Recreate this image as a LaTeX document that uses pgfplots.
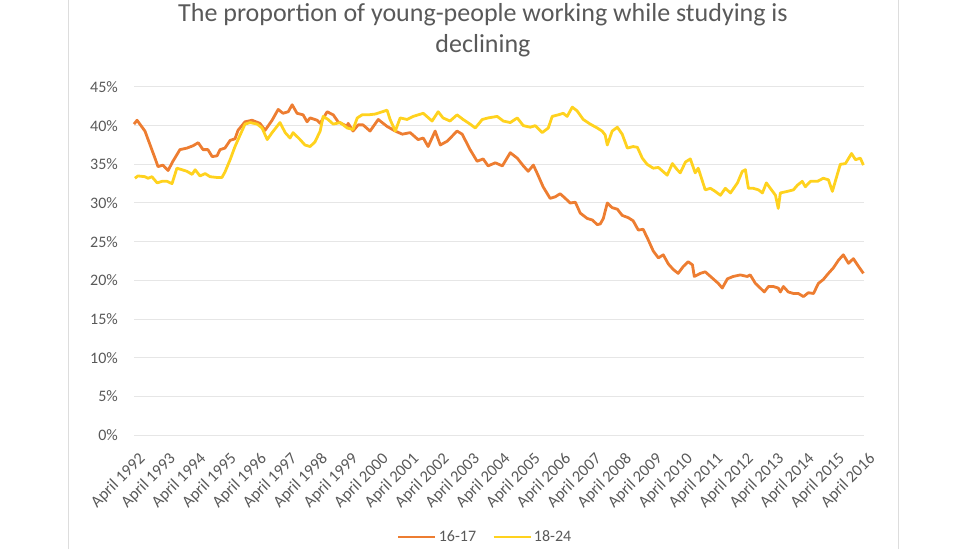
\documentclass[border=0pt]{standalone}
\usepackage{pgfplots}
\pgfplotsset{compat=1.18}
\usepackage{fontspec}
\setmainfont{Carlito}
\definecolor{txtgray}{HTML}{595959}
\definecolor{gridgray}{HTML}{E6E6E6}
\definecolor{bordergray}{HTML}{DDDDDD}
\definecolor{ser1}{HTML}{ED7D31}
\definecolor{ser2}{RGB}{255,210,30}
\begin{document}
\begin{tikzpicture}[x=1pt,y=1pt]
\path[use as bounding box] (0,0) rectangle (976,549);
\draw[bordergray, line width=1pt] (68,0) -- (68,549);
\draw[bordergray, line width=1pt] (898,0) -- (898,549);
\node[txtgray, font=\fontsize{26}{30}\selectfont, anchor=base] at (483,527) {The proportion of young-people working while studying is};
\node[txtgray, font=\fontsize{26}{30}\selectfont, anchor=base] at (483,496) {declining};
\begin{axis}[
  at={(134pt,114pt)}, anchor=south west,
  scale only axis, width=730pt, height=348pt,
  xmin=0, xmax=24, ymin=0, ymax=45,
  axis line style={draw=none},
  major tick length=0pt,
  ymajorgrids, grid style={gridgray, line width=1pt},
  ytick={0,5,...,45},
  yticklabels={0\%,5\%,10\%,15\%,20\%,25\%,30\%,35\%,40\%,45\%},
  xtick={0,...,24},
  xticklabels={April 1992,April 1993,April 1994,April 1995,April 1996,April 1997,April 1998,April 1999,April 2000,April 2001,April 2002,April 2003,April 2004,April 2005,April 2006,April 2007,April 2008,April 2009,April 2010,April 2011,April 2012,April 2013,April 2014,April 2015,April 2016},
  ticklabel style={txtgray, font=\fontsize{16}{19}\selectfont},
  yticklabel style={inner sep=0pt, xshift=-16pt},
  xticklabel style={rotate=45, anchor=east, inner sep=0pt, xshift=-9.2pt, yshift=-21.5pt, font=\fontsize{16.5}{19}\selectfont},
  legend style={at={(0.481,-0.293)}, anchor=center, draw=none, fill=none,
    font=\fontsize{16}{19}\selectfont, text=txtgray, legend columns=2,
    /tikz/every even column/.append style={column sep=14pt}},
  legend image code/.code={\draw[#1] (0pt,0pt) -- (37pt,0pt);},
  clip=false,
]
\addplot[ser1, line width=2.8pt, line join=round] coordinates {
(0.00,40.2)(0.10,40.7)(0.36,39.3)(0.53,37.5)(0.69,35.8)(0.79,34.7)(0.95,34.9)(1.12,34.2)(1.28,35.4)(1.51,36.9)
(1.74,37.1)(1.94,37.4)(2.11,37.8)(2.27,36.9)(2.43,36.9)(2.57,36.0)(2.73,36.1)(2.83,36.9)(2.99,37.1)(3.16,38.1)
(3.32,38.3)(3.42,39.4)(3.65,40.5)(3.88,40.7)(4.14,40.3)(4.31,39.4)(4.54,40.7)(4.74,42.1)(4.90,41.6)(5.07,41.8)
(5.20,42.7)(5.36,41.6)(5.56,41.4)(5.69,40.5)(5.79,41.0)(6.02,40.7)(6.12,40.3)(6.35,41.8)(6.55,41.4)(6.71,40.5)
(7.01,39.9)(7.04,40.3)(7.20,39.3)(7.37,40.1)(7.53,40.1)(7.76,39.3)(8.03,40.8)(8.32,39.9)(8.59,39.3)(8.82,38.9)
(9.08,39.1)(9.34,38.2)(9.51,38.4)(9.67,37.3)(9.90,39.3)(10.07,37.5)(10.30,38.0)(10.62,39.3)(10.79,38.9)(11.05,36.9)
(11.28,35.4)(11.48,35.7)(11.64,34.8)(11.88,35.2)(12.11,34.8)(12.37,36.5)(12.60,35.8)(12.80,34.8)(12.96,34.1)(13.13,34.9)
(13.26,33.8)(13.45,32.1)(13.68,30.6)(13.85,30.8)(14.01,31.2)(14.18,30.6)(14.34,30.0)(14.51,30.1)(14.67,28.7)(14.90,28.0)
(15.07,27.8)(15.23,27.2)(15.33,27.3)(15.43,28.0)(15.56,30.0)(15.72,29.4)(15.89,29.2)(16.05,28.4)(16.25,28.1)(16.41,27.7)
(16.58,26.5)(16.74,26.6)(16.91,25.2)(17.07,23.8)(17.24,22.9)(17.40,23.3)(17.57,22.1)(17.73,21.4)(17.89,20.9)(18.06,21.8)
(18.22,22.4)(18.36,22.0)(18.42,20.5)(18.62,20.9)(18.78,21.1)(19.01,20.3)(19.21,19.6)(19.34,19.0)(19.51,20.2)(19.70,20.5)
(19.93,20.7)(20.16,20.5)(20.26,20.7)(20.43,19.6)(20.59,19.0)(20.72,18.5)(20.86,19.2)(21.02,19.2)(21.18,19.0)(21.25,18.5)
(21.35,19.2)(21.51,18.5)(21.68,18.3)(21.84,18.3)(22.01,17.9)(22.17,18.4)(22.34,18.3)(22.50,19.6)(22.66,20.1)(22.83,20.9)
(22.99,21.6)(23.16,22.6)(23.32,23.3)(23.49,22.2)(23.65,22.8)(23.82,21.8)(23.98,20.9)
};
\addlegendentry{16-17}
\addplot[ser2, line width=2.8pt, line join=round] coordinates {
(0.03,33.2)(0.13,33.5)(0.36,33.4)(0.46,33.2)(0.59,33.4)(0.76,32.6)(0.92,32.8)(1.09,32.8)(1.25,32.5)(1.41,34.5)
(1.58,34.3)(1.74,34.1)(1.91,33.7)(2.01,34.3)(2.17,33.5)(2.34,33.8)(2.50,33.4)(2.73,33.3)(2.89,33.3)(2.99,34.0)
(3.16,35.6)(3.32,37.3)(3.49,38.8)(3.65,40.2)(3.82,40.4)(4.05,40.2)(4.21,39.7)(4.38,38.2)(4.54,39.1)(4.80,40.4)
(4.97,39.1)(5.13,38.4)(5.23,39.1)(5.46,38.2)(5.62,37.5)(5.79,37.3)(5.95,37.9)(6.12,39.3)(6.22,41.2)(6.38,40.8)
(6.55,40.2)(6.78,40.4)(7.01,39.7)(7.20,39.5)(7.34,41.0)(7.50,41.4)(7.70,41.4)(7.93,41.5)(8.32,42.0)(8.42,40.8)
(8.59,39.3)(8.75,41.0)(8.98,40.8)(9.18,41.2)(9.51,41.6)(9.80,40.6)(10.00,41.8)(10.16,41.0)(10.39,40.6)(10.62,41.4)
(10.82,40.8)(11.05,40.2)(11.22,39.7)(11.45,40.8)(11.64,41.0)(11.94,41.2)(12.14,40.6)(12.37,40.4)(12.60,41.0)(12.80,40.0)
(13.03,39.8)(13.19,40.0)(13.42,39.1)(13.62,39.7)(13.75,41.2)(13.95,41.4)(14.11,41.6)(14.24,41.2)(14.41,42.4)(14.57,41.9)
(14.77,40.8)(15.00,40.2)(15.23,39.7)(15.39,39.3)(15.49,38.8)(15.56,37.5)(15.72,39.3)(15.89,39.8)(16.05,38.9)(16.22,37.1)
(16.41,37.3)(16.55,37.2)(16.71,35.8)(16.87,35.0)(17.07,34.5)(17.24,34.6)(17.53,33.6)(17.70,35.1)(17.86,34.3)(17.96,33.9)
(18.13,35.3)(18.29,35.7)(18.45,33.9)(18.55,34.5)(18.78,31.7)(18.95,31.9)(19.11,31.5)(19.28,31.0)(19.44,31.9)(19.61,31.3)
(19.84,32.6)(20.00,34.1)(20.10,34.3)(20.20,31.9)(20.36,31.9)(20.53,31.7)(20.66,31.3)(20.79,32.6)(20.92,31.9)(21.09,31.0)
(21.18,29.3)(21.25,31.3)(21.48,31.5)(21.68,31.7)(21.81,32.3)(21.97,32.8)(22.07,32.1)(22.24,32.8)(22.47,32.8)(22.66,33.2)
(22.83,33.0)(22.96,31.5)(23.13,33.8)(23.22,35.0)(23.39,35.1)(23.59,36.4)(23.72,35.6)(23.88,35.8)(23.98,34.9)
};
\addlegendentry{18-24}
\end{axis}
\end{tikzpicture}
\end{document}
